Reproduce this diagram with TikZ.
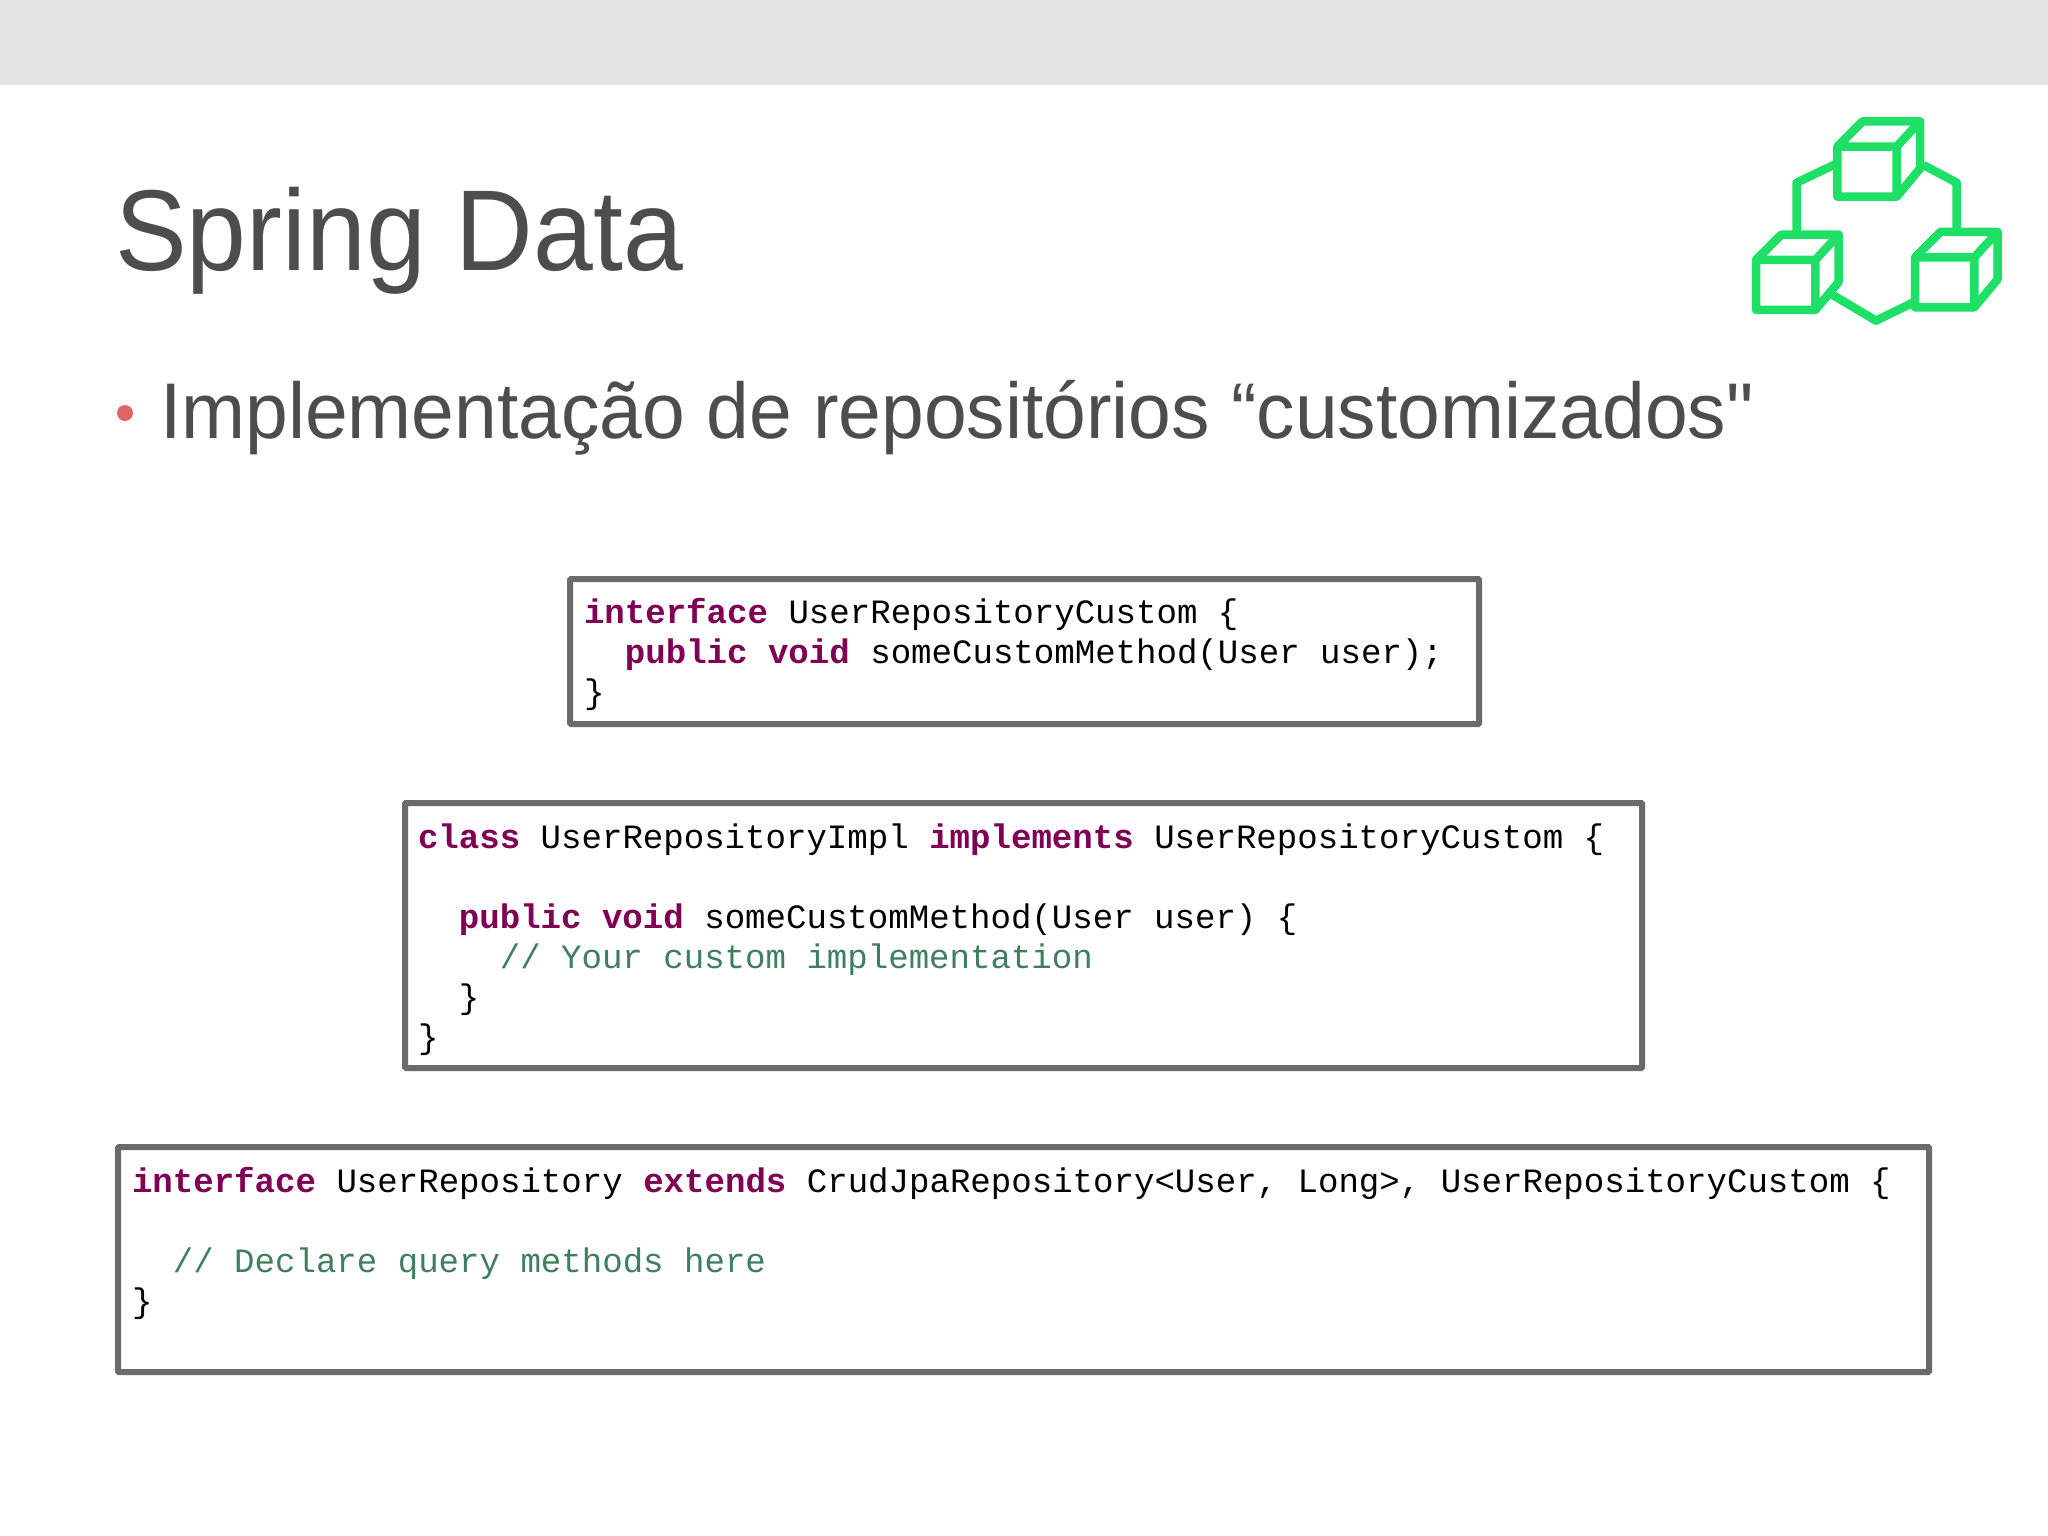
\documentclass[tikz,border=0pt]{standalone}
\usepackage{fontspec}
\newfontfamily\titlesans[FakeStretch=0.935]{Liberation Sans}
\newfontfamily\slidesans[FakeStretch=0.972]{Liberation Sans}
\setmonofont{Liberation Mono}
\definecolor{kw}{HTML}{7F0055}
\definecolor{cm}{HTML}{3F7F5F}
\definecolor{ink}{HTML}{4D4D4D}
\definecolor{framec}{HTML}{6B6B6B}
\definecolor{iconc}{HTML}{1EE066}
\definecolor{barc}{HTML}{E3E3E3}
\definecolor{bulletc}{HTML}{E06666}
\newcommand{\kw}[1]{\textcolor{kw}{\textbf{#1}}}
\newcommand{\cm}[1]{\textcolor{cm}{#1}}
\newcommand{\cubeicon}[2]{%
  \draw[iconline,shift={(#1,#2)}] (0,0) rectangle (178,150)
    (0,0) -- (76,-76) -- (248,-76) -- (178,0)
    (248,-76) -- (248,66) -- (178,150);
}
\tikzset{
  codebox/.style={draw=framec,line width=6pt,rounded corners=1pt,fill=white},
  codeline/.style={anchor=base west,inner sep=0pt,outer sep=0pt,font=\ttfamily\fontsize{34.08}{40}\selectfont,text=black},
  iconline/.style={draw=iconc,line width=8.5pt,line join=round},
}
\begin{document}
\begin{tikzpicture}[x=1pt,y=-1pt]
\useasboundingbox (0,0) rectangle (2048,1536);
\fill[white] (0,0) rectangle (2048,1536);
\fill[barc] (0,0) rectangle (2048,85);

\node[anchor=base west,inner sep=0pt,text=ink,font=\titlesans\fontsize{115}{125}\selectfont] (title) at (115,270) {Spring Data};
\fill[bulletc] (125,413) circle (8);
\node[anchor=base west,inner sep=0pt,text=ink,font=\slidesans\fontsize{79}{90}\selectfont] (subtitle) at (160,438) {Implementação de repositórios “customizados"};

\begin{scope}[shift={(1720,100)},x=0.3333pt,y=-0.3333pt]
  \cubeicon{352}{140}
  \cubeicon{108}{480}
  \cubeicon{585}{472}
  \draw[iconline] (352,190) -- (230,248) -- (230,400);
  \draw[iconline] (610,195) -- (710,248) -- (710,395);
  \draw[iconline] (338,585) -- (468,662) -- (585,605);
\end{scope}

\draw[codebox] (570,579) rectangle (1479,724);
\node[codeline] (a1) at (584,623) {\kw{interface} UserRepositoryCustom \{};
\node[codeline] (a2) at (584,663) {\ \ \kw{public void} someCustomMethod(User user);};
\node[codeline] (a3) at (584,703) {\}};

\draw[codebox] (405,803) rectangle (1642,1068);
\node[codeline] (b1) at (418,848) {\kw{class} UserRepositoryImpl \kw{implements} UserRepositoryCustom \{};
\node[codeline] (b2) at (418,928) {\ \ \kw{public void} someCustomMethod(User user) \{};
\node[codeline] (b3) at (418,968) {\ \ \ \ \cm{// Your custom implementation}};
\node[codeline] (b4) at (418,1008) {\ \ \}};
\node[codeline] (b5) at (418,1048) {\}};

\draw[codebox] (118,1147) rectangle (1929,1372);
\node[codeline] (c1) at (132,1192) {\kw{interface} UserRepository \kw{extends} CrudJpaRepository<User, Long>, UserRepositoryCustom \{};
\node[codeline] (c2) at (132,1272) {\ \ \cm{// Declare query methods here}};
\node[codeline] (c3) at (132,1312) {\}};
\end{tikzpicture}
\end{document}
